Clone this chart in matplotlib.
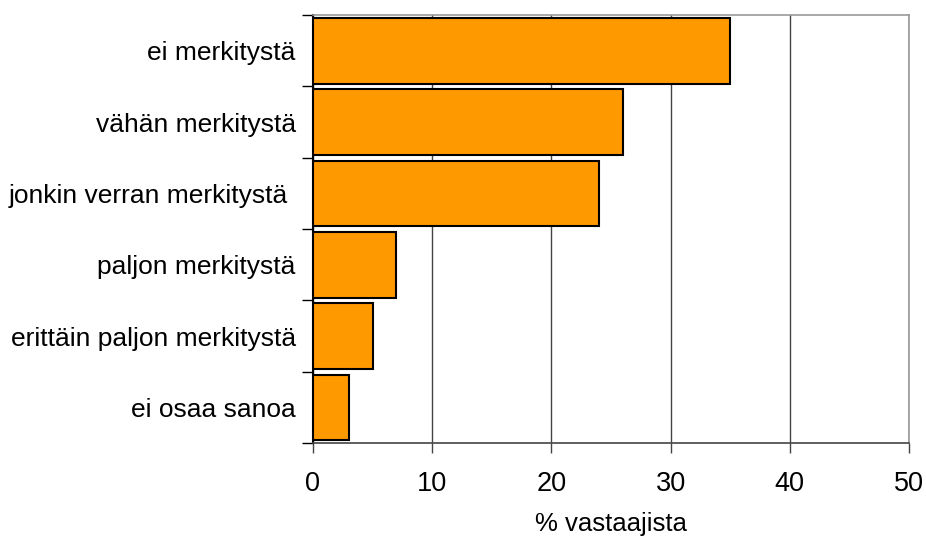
import matplotlib
matplotlib.use("Agg")
import matplotlib.pyplot as plt
import numpy as np

categories = ["ei merkitystä", "vähän merkitystä", "jonkin verran merkitystä ",
              "paljon merkitystä", "erittäin paljon merkitystä", "ei osaa sanoa"]
values = [35, 26, 24, 7, 5, 3]
xticks = [0, 10, 20, 30, 40, 50]

plt.rcParams['font.family'] = ['Liberation Sans', 'DejaVu Sans']

fig = plt.figure(figsize=(9.26, 5.41), dpi=100)
ax = fig.add_axes([0.338, 0.181, 0.6436, 0.791])

n = len(categories)
y = np.arange(n)[::-1]
ax.barh(y, values, height=0.92, color="#FF9900", edgecolor="black", linewidth=1.5, zorder=3)

ax.set_xlim(0, 50)
ax.set_ylim(-0.5, n - 0.5)
ax.set_xticks(xticks)
ax.set_xticklabels([str(t) for t in xticks], fontsize=19.5)
ax.set_yticks(y)
ax.set_yticklabels(categories, fontsize=19)
ax.tick_params(axis='y', length=0, pad=12.5)
ax.set_yticks(np.arange(n + 1) - 0.5, minor=True)
ax.tick_params(axis='y', which='minor', length=8, width=1, color='black', direction='out')
ax.tick_params(axis='x', length=7, width=1, color='#444444', direction='out', pad=13)

ax.xaxis.grid(True, color='#444444', linewidth=1, zorder=0)
ax.set_axisbelow(True)

for s in ['top', 'right']:
    ax.spines[s].set_color('#999999')
    ax.spines[s].set_linewidth(1.2)
ax.spines['left'].set_linewidth(1.5)
ax.spines['bottom'].set_color('#444444')
ax.spines['bottom'].set_linewidth(1.2)

ax.set_xlabel("% vastaajista", fontsize=18.5, labelpad=11)

fig.savefig("out.png", dpi=100)
